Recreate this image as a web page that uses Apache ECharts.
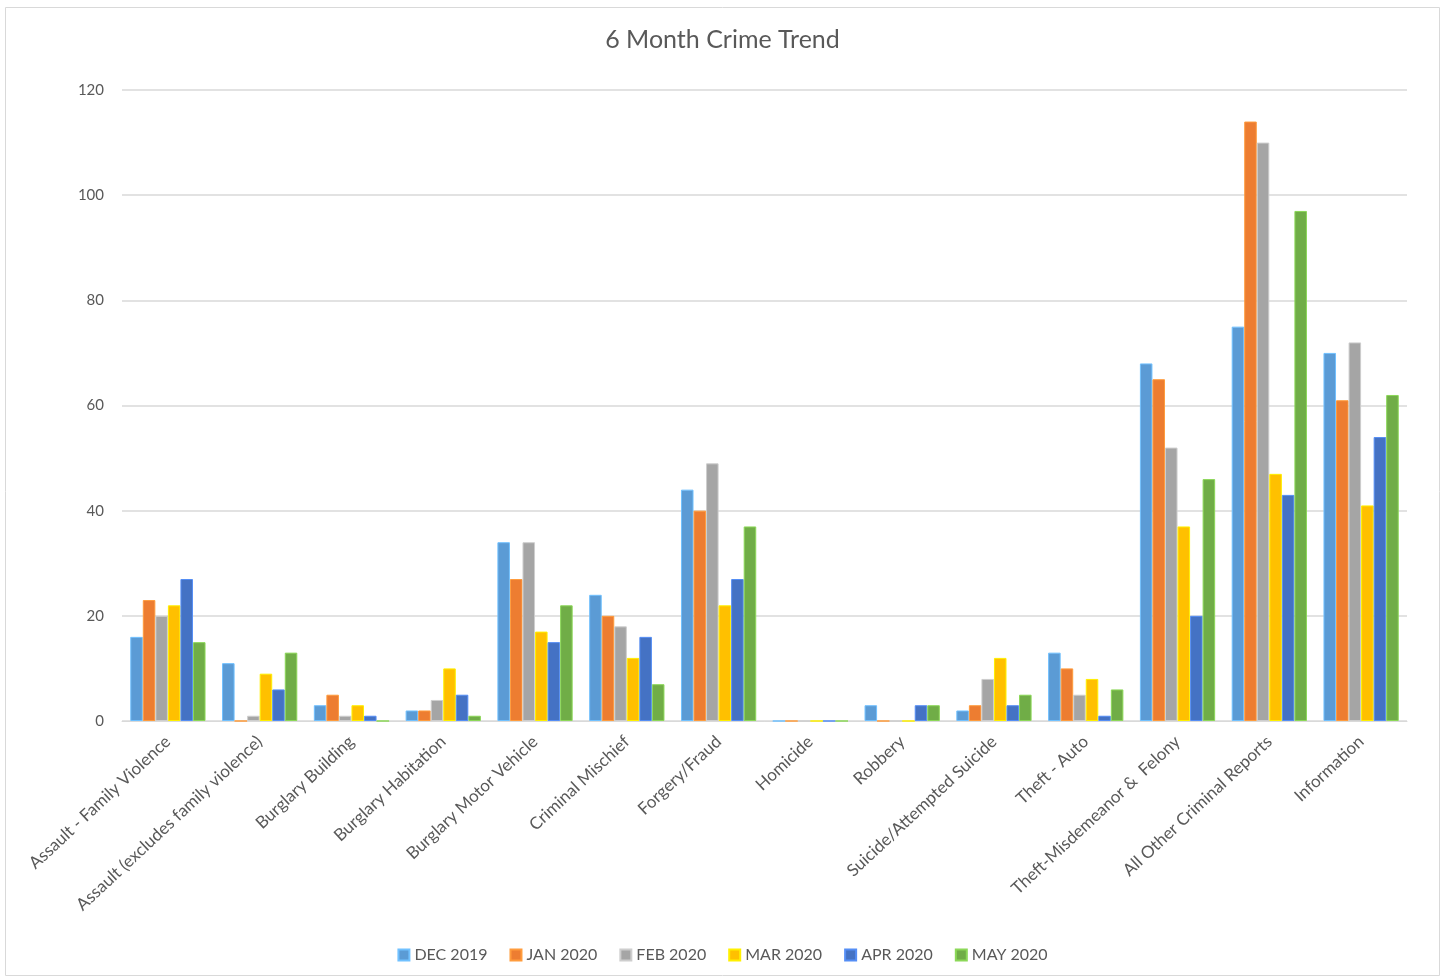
<!DOCTYPE html>
<html><head><meta charset="utf-8">
<script src="https://cdn.jsdelivr.net/npm/echarts@6/dist/echarts.min.js"></script>
<style>html,body{margin:0;padding:0;background:#fff}#c{width:1445px;height:979px}</style>
</head><body><div id="c"></div>
<script>
const categories = ["Assault - Family Violence","Assault (excludes family violence)","Burglary Building","Burglary Habitation","Burglary Motor Vehicle","Criminal Mischief","Forgery/Fraud","Homicide","Robbery","Suicide/Attempted Suicide","Theft - Auto","Theft-Misdemeanor &  Felony","All Other Criminal Reports","Information"];
const seriesNames = ["DEC 2019","JAN 2020","FEB 2020","MAR 2020","APR 2020","MAY 2020"];
const dec2019 = [16,11,3,2,34,24,44,0,3,2,13,68,75,70];
const jan2020 = [23,0,5,2,27,20,40,0,0,3,10,65,114,61];
const feb2020 = [20,1,1,4,34,18,49,0,0,8,5,52,110,72];
const mar2020 = [22,9,3,10,17,12,22,0,0,12,8,37,47,41];
const apr2020 = [27,6,1,5,15,16,27,0,3,3,1,20,43,54];
const may2020 = [15,13,0,1,22,7,37,0,3,5,6,46,97,62];
const yTicks = [0,20,40,60,80,100,120];

const colors = ["#5B9BD5","#ED7D31","#A5A5A5","#FFC000","#4472C4","#70AD47"];
const allData = [dec2019,jan2020,feb2020,mar2020,apr2020,may2020];
const chart = echarts.init(document.getElementById('c'));
const font = 'Lato, "Open Sans", sans-serif';
chart.setOption({
  animation:false,
  color: colors,
  graphic:[{type:'rect',shape:{x:5.5,y:7.5,width:1434,height:968},style:{fill:'none',stroke:'#d9d9d9',lineWidth:1},silent:true}],
  title:{text:'6 Month Crime Trend',left:'center',top:22,textStyle:{fontFamily:font,fontSize:25,fontWeight:'normal',color:'#595959'}},
  legend:{bottom:11,left:'center',itemWidth:11,itemHeight:11,itemGap:22,icon:'rect',textStyle:{fontFamily:font,fontSize:16,color:'#595959'},data:seriesNames},
  grid:{left:122,right:38,top:90,bottom:258,containLabel:false},
  xAxis:{type:'category',data:categories,axisTick:{show:false},axisLine:{lineStyle:{color:'#d9d9d9'}},
    axisLabel:{rotate:43,interval:0,fontFamily:font,fontSize:17,color:'#595959',margin:18}},
  yAxis:{type:'value',min:0,max:120,interval:20,axisLine:{show:false},axisTick:{show:false},
    splitLine:{lineStyle:{color:'#d9d9d9',width:1.5}},
    axisLabel:{fontFamily:font,fontSize:15,color:'#595959',margin:18,formatter:v=>yTicks.includes(v)?String(v):''}},
  series: seriesNames.map((n,i)=>({name:n,type:'bar',data:allData[i],barGap:'0%',barCategoryGap:'18%',
    itemStyle:{color:colors[i],borderColor:echarts.color.lift(colors[i],-0.25),borderWidth:1}}))
});
</script></body></html>
